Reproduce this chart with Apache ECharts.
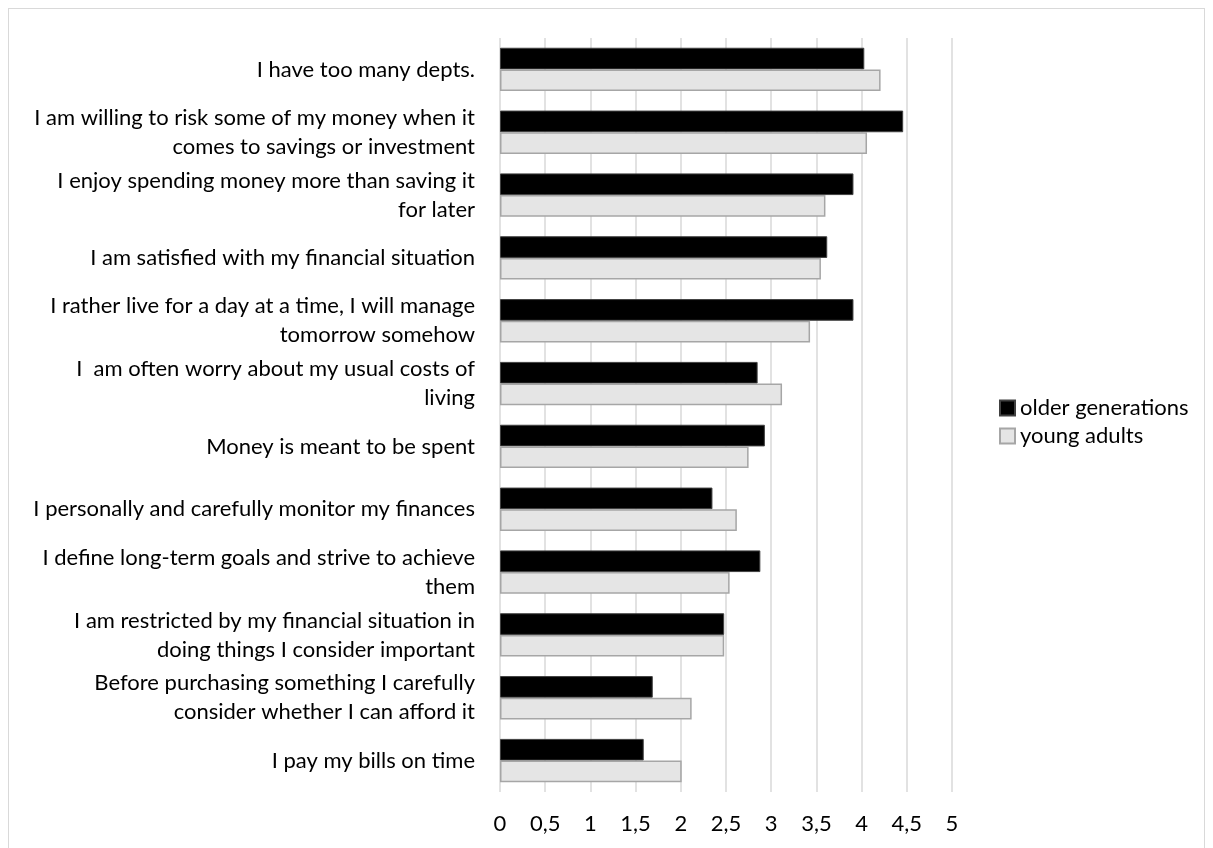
<!DOCTYPE html>
<html>
<head>
<meta charset="utf-8">
<script src="https://cdn.jsdelivr.net/npm/echarts@6/dist/echarts.min.js"></script>
<style>
  html, body { margin: 0; padding: 0; background: #fff; overflow: hidden; }
  #frame { position: absolute; left: 8px; top: 8px; width: 1197px; height: 900px; border: 1px solid #d9d9d9; box-sizing: border-box; }
  #chart { position: absolute; left: 0; top: 0; width: 1213px; height: 848px; }
</style>
</head>
<body>
<div id="frame"></div>
<div id="chart"></div>
<script>
// Survey statements, listed top to bottom
const statements = [
  'I have too many depts.',
  'I am willing to risk some of my money when it\ncomes to savings or investment',
  'I enjoy spending money more than saving it\nfor later',
  'I am satisfied with my financial situation',
  'I rather live for a day at a time, I will manage\ntomorrow somehow',
  'I  am often worry about my usual costs of\nliving',
  'Money is meant to be spent',
  'I personally and carefully monitor my finances',
  'I define long-term goals and strive to achieve\nthem',
  'I am restricted by my financial situation in\ndoing things I consider important',
  'Before purchasing something I carefully\nconsider whether I can afford it',
  'I pay my bills on time'
];

// Mean agreement scores
const olderGenerations = [4.03, 4.46, 3.91, 3.62, 3.91, 2.85, 2.93, 2.35, 2.88, 2.48, 1.69, 1.59];
const youngAdults      = [4.21, 4.06, 3.60, 3.55, 3.43, 3.12, 2.75, 2.62, 2.54, 2.48, 2.12, 2.01];

const seriesNames = ['older generations', 'young adults'];

const FONT = 'Lato, "Open Sans", sans-serif';
const FS = 22;

const chart = echarts.init(document.getElementById('chart'));
chart.setOption({
  animation: false,
  textStyle: { fontFamily: FONT },
  legend: {
    orient: 'vertical',
    left: 994,
    top: 392,
    itemWidth: 15,
    itemHeight: 15,
    itemGap: 6,
    icon: 'rect',
    textStyle: { fontSize: FS, color: '#000', fontFamily: FONT },
    data: seriesNames
  },
  grid: { left: 500, right: 261, top: 38, bottom: 56, containLabel: false },
  xAxis: {
    type: 'value',
    min: 0,
    max: 5,
    interval: 0.5,
    axisLine: { show: false },
    axisTick: { show: false },
    axisLabel: {
      fontSize: FS,
      color: '#000',
      margin: 21,
      formatter: v => String(v).replace('.', ',')
    },
    splitLine: { show: true, lineStyle: { color: '#d9d9d9', width: 1.5 } }
  },
  yAxis: {
    type: 'category',
    inverse: true,
    data: statements,
    axisLine: { show: false },
    axisTick: { show: false },
    axisLabel: {
      fontSize: FS,
      color: '#000',
      margin: 25,
      lineHeight: 29,
      align: 'right'
    }
  },
  series: [
    {
      name: seriesNames[0],
      type: 'bar',
      data: olderGenerations,
      barGap: '0%',
      barCategoryGap: '31%',
      itemStyle: { color: '#000', borderColor: '#404040', borderWidth: 1 }
    },
    {
      name: seriesNames[1],
      type: 'bar',
      data: youngAdults,
      itemStyle: { color: '#e5e5e5', borderColor: '#a6a6a6', borderWidth: 1.5 }
    }
  ]
});
</script>
</body>
</html>
